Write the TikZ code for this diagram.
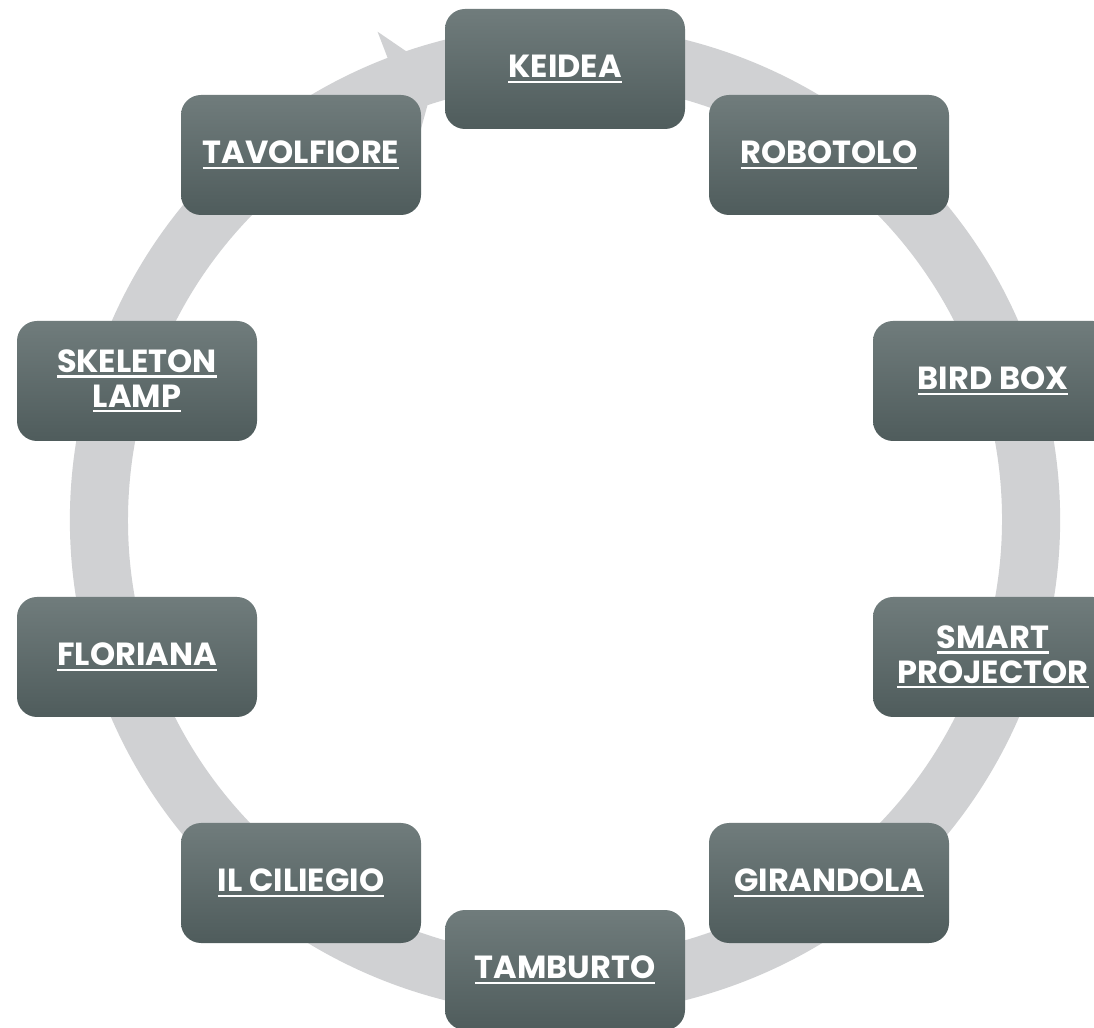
\documentclass[tikz,border=0pt]{standalone}
\usepackage{fontspec}
\newfontfamily\boxfont{Poppins}
\definecolor{ringgray}{HTML}{D0D1D3}
\definecolor{boxtop}{HTML}{707C7C}
\definecolor{boxbot}{HTML}{4F5C5C}
\newcommand\myul[1]{\leavevmode\setbox0\hbox{#1}\rlap{\rule[-4pt]{\wd0}{1.7pt}}\box0}
\tikzset{
  card/.style={rectangle, rounded corners=15pt, minimum width=180pt, minimum height=90pt,
    top color=boxtop, bottom color=boxbot, draw=none, text=white,
    font=\boxfont\bfseries\fontsize{24}{26}\selectfont, align=center, inner sep=0pt},
}
\begin{document}
\begin{tikzpicture}[x=0.75pt,y=0.75pt]
\useasboundingbox (0,0) rectangle (1094,1027);
\fill[white] (0,0) rectangle (1094,1027);
% ring arrow
\begin{scope}[shift={(565,507)}]
\fill[ringgray] (111:495) arc[start angle=111, end angle=-275, radius=495]
  -- (-275:437) arc[start angle=-275, end angle=111, radius=437]
  -- (111:409) -- (106:466) -- (111:523) -- cycle;
\end{scope}
% boxes
\node[card] (keidea) at (565,958) {\myul{KEIDEA}};
\node[card] (robotolo) at (829,872) {\myul{ROBOTOLO}};
\node[card] (birdbox) at (993,646) {\myul{BIRD BOX}};
\node[card] (smart) at (993,370) {\myul{SMART}\\\myul{PROJECTOR}};
\node[card] (girandola) at (829,144) {\myul{GIRANDOLA}};
\node[card] (tamburto) at (565,57) {\myul{TAMBURTO}};
\node[card] (ciliegio) at (301,144) {\myul{IL CILIEGIO}};
\node[card] (floriana) at (137,370) {\myul{FLORIANA}};
\node[card] (skeleton) at (137,646) {\myul{SKELETON}\\\myul{LAMP}};
\node[card] (tavolfiore) at (301,872) {\myul{TAVOLFIORE}};
\end{tikzpicture}
\end{document}
